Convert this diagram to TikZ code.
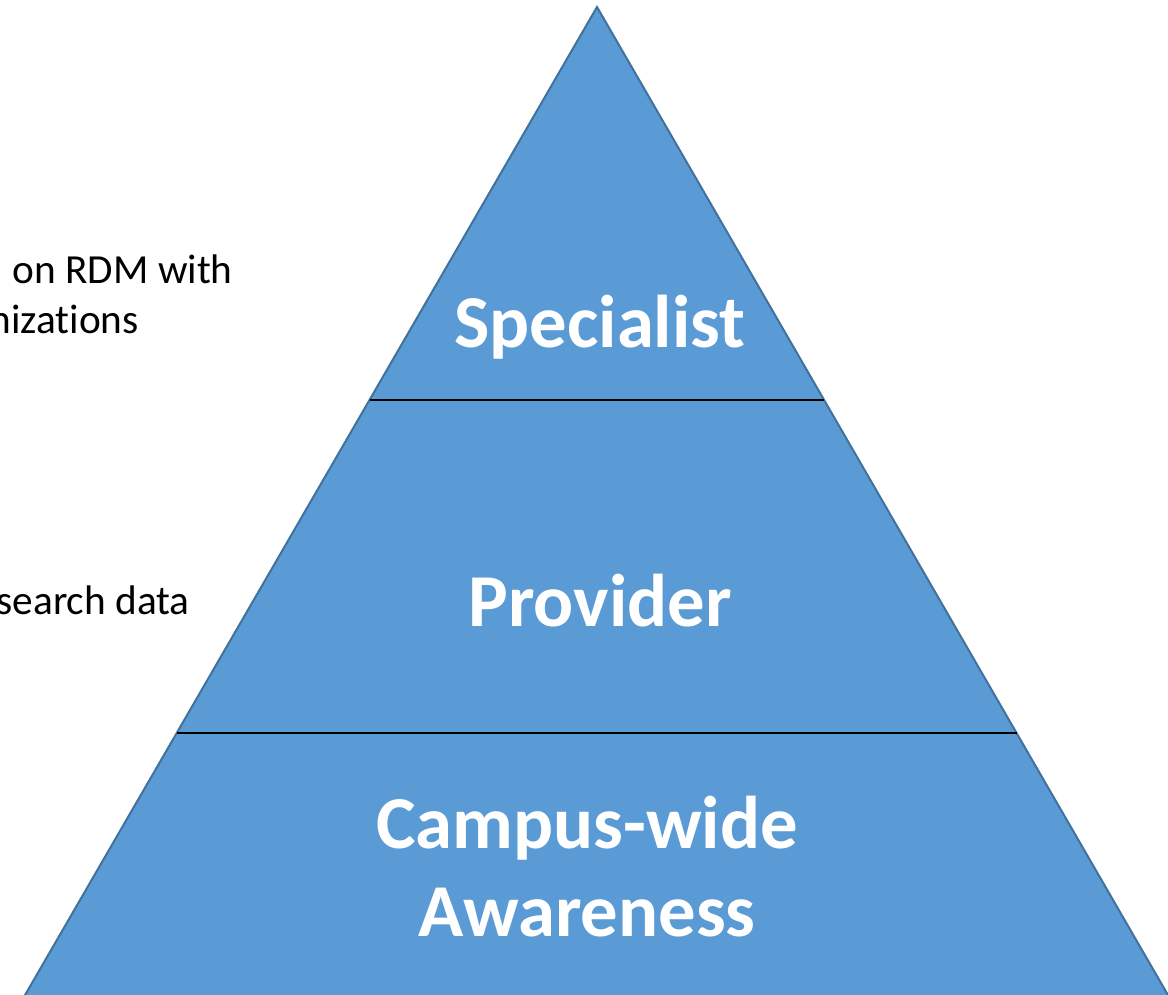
\documentclass[tikz,border=0pt]{standalone}
\usepackage{fontspec}
\setmainfont{Carlito}[Ligatures=NoCommon]
\definecolor{tierfill}{HTML}{5B9BD5}
\definecolor{tieredge}{HTML}{41719C}
\tikzset{
	tierlabel/.style={text=white, font=\fontsize{56}{66}\selectfont\bfseries, align=center},
	sidetext/.style={text=black, font=\fontsize{31}{37}\selectfont, inner sep=0pt}
}

\begin{document}
\begin{tikzpicture}[x=0.75pt, y=-0.75pt]
			%%%%% START %%%%%
			\useasboundingbox (0, 0) rectangle (1168, 995);
			\clip (0, 0) rectangle (1168, 995);
			
			\draw[line width=1.5pt, color=tieredge, fill=tierfill] (597, 7) -- (1172, 1002) -- (21, 1002) -- cycle;
			
			\draw[line width=1.1pt, color=black] (369.5, 400) -- (824, 400);
			\draw[line width=1.1pt, color=black] (177, 733) -- (1016.5, 733);
			
			\node[tierlabel] (specialist) at (600, 327) {Specialist};
			\node[tierlabel] (provider) at (600, 601) {Provider};
			\node[tierlabel] (campus) at (587, 867) {Campus-wide\\Awareness};
			
			\node[sidetext, anchor=base east] (rdm) at (233, 283) {on RDM with};
			\node[sidetext, anchor=base east] (orgs) at (139, 333) {nizat\kern0pt ions};
			\node[sidetext, anchor=base east] (data) at (190, 614) {search data};
			
			%%%%% END %%%%%
\end{tikzpicture}
\end{document}
